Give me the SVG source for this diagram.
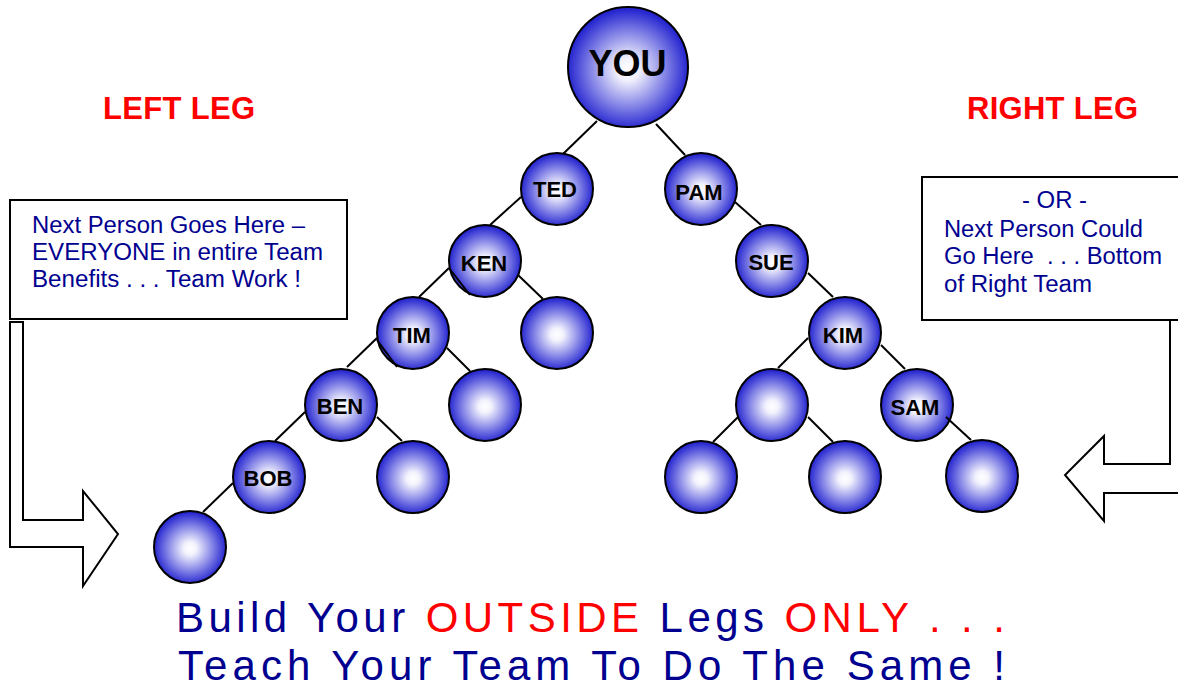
<svg xmlns="http://www.w3.org/2000/svg" width="1178" height="689" viewBox="0 0 1178 689">
<style>
.node circle{fill:url(#ball);stroke:#000;stroke-width:2}
.lbl{font-family:"Liberation Sans",Arial,sans-serif;font-weight:bold;font-size:22px;fill:#000;text-anchor:middle}
.box{fill:#fff;stroke:#000;stroke-width:2}
.bt{font-family:"Liberation Sans",Arial,sans-serif;font-size:23.5px;fill:#000090}
.leg{font-family:"Liberation Sans",Arial,sans-serif;font-weight:bold;font-size:31px;fill:#ff0000}
.big{font-family:"Liberation Sans",Arial,sans-serif;font-size:42px;fill:#000090}
.red{fill:#ff0000}
.conn line{stroke:#000;stroke-width:2}
.arrow{fill:#fff;stroke:#000;stroke-width:2;stroke-linejoin:miter}
</style>
<defs>
<radialGradient id="ball" cx="50%" cy="52%" r="50%">
<stop offset="0" stop-color="#ffffff"/>
<stop offset="0.18" stop-color="#f2f2fd"/>
<stop offset="0.6" stop-color="#8a8ae8"/>
<stop offset="1" stop-color="#2626d0"/>
</radialGradient>
</defs>
<rect width="1178" height="689" fill="#fff"/>

<text class="leg" x="103" y="119" textLength="152">LEFT LEG</text>
<text class="leg" x="967" y="119" textLength="171">RIGHT LEG</text>

<g id="left-box">
<rect class="box" x="10" y="200" width="337" height="119"/>
<text class="bt" x="32" y="233" textLength="273" lengthAdjust="spacingAndGlyphs">Next Person Goes Here –</text>
<text class="bt" x="32" y="260" textLength="291" lengthAdjust="spacingAndGlyphs">EVERYONE in entire Team</text>
<text class="bt" x="32" y="287" textLength="269" lengthAdjust="spacingAndGlyphs">Benefits . . . Team Work !</text>
</g>
<g id="right-box">
<rect class="box" x="922" y="177" width="270" height="143"/>
<text class="bt" x="1022" y="208" textLength="65" lengthAdjust="spacingAndGlyphs">- OR -</text>
<text class="bt" x="944" y="237" textLength="199" lengthAdjust="spacingAndGlyphs">Next Person Could</text>
<text class="bt" x="944" y="264" textLength="218" lengthAdjust="spacingAndGlyphs" xml:space="preserve">Go Here  . . . Bottom</text>
<text class="bt" x="944" y="292" textLength="148" lengthAdjust="spacingAndGlyphs">of Right Team</text>
</g>

<g id="left-arrow">
<path class="arrow" d="M10,322 H23 V520 H83 V491 L118,534 L83,586 V547 H10 Z"/>
</g>
<g id="right-arrow">
<path class="arrow" d="M1190,320 H1170 V464 H1104 V436 L1065,475 L1104,521 V493 H1190"/>
</g>

<g id="you" class="node"><circle cx="628" cy="67" r="60"/><text class="lbl" x="627.5" y="76" style="font-size:36px">YOU</text></g>
<g id="ted" class="node"><circle cx="557" cy="189" r="36"/><text class="lbl" x="555" y="197">TED</text></g>
<g id="ken" class="node"><circle cx="485" cy="261" r="36"/><text class="lbl" x="484" y="271">KEN</text></g>
<g id="tim" class="node"><circle cx="413" cy="333" r="36"/><text class="lbl" x="412" y="343">TIM</text></g>
<g id="ken-r" class="node"><circle cx="557" cy="333" r="36"/></g>
<g id="ben" class="node"><circle cx="341" cy="405" r="36"/><text class="lbl" x="340" y="414">BEN</text></g>
<g id="tim-r" class="node"><circle cx="485" cy="405" r="36"/></g>
<g id="bob" class="node"><circle cx="269" cy="477" r="36"/><text class="lbl" x="268" y="486">BOB</text></g>
<g id="ben-r" class="node"><circle cx="413" cy="477" r="36"/></g>
<g id="bob-l" class="node"><circle cx="190" cy="547" r="36"/></g>
<g id="pam" class="node"><circle cx="701" cy="189" r="36"/><text class="lbl" x="699" y="200">PAM</text></g>
<g id="sue" class="node"><circle cx="772" cy="261" r="36"/><text class="lbl" x="771" y="270">SUE</text></g>
<g id="kim" class="node"><circle cx="845" cy="333" r="36"/><text class="lbl" x="843" y="343">KIM</text></g>
<g id="kim-l" class="node"><circle cx="772" cy="405" r="36"/></g>
<g id="sam" class="node"><circle cx="917" cy="405" r="36"/><text class="lbl" x="915" y="415">SAM</text></g>
<g id="kl-l" class="node"><circle cx="701" cy="477" r="36"/></g>
<g id="kl-r" class="node"><circle cx="845" cy="477" r="36"/></g>
<g id="sam-r" class="node"><circle cx="982" cy="476" r="36"/></g>

<g id="connectors" class="conn">
<line x1="597" y1="121" x2="563" y2="154"/>
<line x1="656" y1="124" x2="685" y2="155"/>
<line x1="521" y1="197" x2="490" y2="225"/>
<line x1="449" y1="268" x2="419" y2="297"/>
<line x1="449" y1="268" x2="470" y2="295"/>
<line x1="518" y1="275" x2="543" y2="299"/>
<line x1="377" y1="338" x2="347" y2="367"/>
<line x1="377" y1="340" x2="397" y2="367"/>
<line x1="447" y1="348" x2="470" y2="371"/>
<line x1="305" y1="412" x2="275" y2="441"/>
<line x1="377" y1="417" x2="402" y2="441"/>
<line x1="233" y1="483" x2="203" y2="512"/>
<line x1="735" y1="202" x2="761" y2="225"/>
<line x1="808" y1="273" x2="833" y2="297"/>
<line x1="808" y1="338" x2="778" y2="368"/>
<line x1="881" y1="345" x2="905" y2="369"/>
<line x1="738" y1="417" x2="713" y2="442"/>
<line x1="808" y1="417" x2="833" y2="442"/>
<line x1="946" y1="417" x2="971" y2="440"/>
</g>

<text class="big" x="176" y="632" textLength="829">Build Your <tspan class="red">OUTSIDE</tspan> Legs <tspan class="red">ONLY . . .</tspan></text>
<text class="big" x="178" y="680" textLength="827">Teach Your Team To Do The Same !</text>
</svg>
